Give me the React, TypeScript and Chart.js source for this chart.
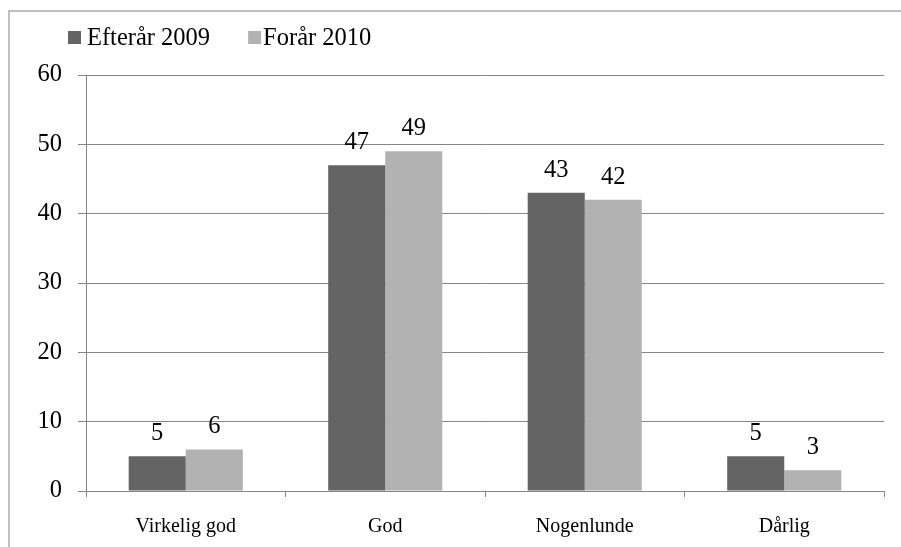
import React, { useEffect, useRef } from "react";
import { Chart, registerables } from "chart.js";

Chart.register(...registerables);

const categories = ["Virkelig god", "God", "Nogenlunde", "Dårlig"];
const seriesNames = ["Efterår 2009", "Forår 2010"];
const efteraar2009 = [5, 47, 43, 5];
const foraar2010 = [6, 49, 42, 3];
const seriesColors = ["#646464", "#b2b2b2"];
const yTickMax = 60;
const yTickStep = 10;

const SERIF = "'Liberation Serif', 'Times New Roman', serif";

const framePlugin = {
  id: "frame",
  beforeDraw(chart: any) {
    const ctx = chart.ctx;
    ctx.save();
    ctx.strokeStyle = "#aaaaaa";
    ctx.lineWidth = 1.5;
    ctx.beginPath();
    ctx.moveTo(9, chart.height);
    ctx.lineTo(9, 11);
    ctx.lineTo(chart.width, 11);
    ctx.stroke();
    ctx.restore();
  },
};

const legendPlugin = {
  id: "customLegend",
  afterDraw(chart: any) {
    const ctx = chart.ctx;
    ctx.save();
    ctx.font = `24.5px ${SERIF}`;
    ctx.textBaseline = "alphabetic";
    ctx.textAlign = "left";
    let x = 68;
    chart.data.datasets.forEach((ds: any, i: number) => {
      ctx.fillStyle = ds.backgroundColor;
      ctx.fillRect(x, 31, 13, 13);
      ctx.fillStyle = "#000";
      const tx = x + (i === 0 ? 19 : 15);
      ctx.fillText(ds.label, tx, 45);
      x = tx + ctx.measureText(ds.label).width + 38;
    });
    ctx.restore();
  },
};

const dataLabelPlugin = {
  id: "dataLabels",
  afterDatasetsDraw(chart: any) {
    const ctx = chart.ctx;
    ctx.save();
    ctx.font = `24.5px ${SERIF}`;
    ctx.fillStyle = "#000";
    ctx.textAlign = "center";
    ctx.textBaseline = "alphabetic";
    chart.data.datasets.forEach((ds: any, di: number) => {
      const meta = chart.getDatasetMeta(di);
      meta.data.forEach((bar: any, i: number) => {
        ctx.fillText(String(ds.data[i]), bar.x, bar.y - 16);
      });
    });
    ctx.restore();
  },
};

export default function App() {
  const ref = useRef<HTMLCanvasElement>(null);
  useEffect(() => {
    if (!ref.current) return;
    const chart = new Chart(ref.current, {
      type: "bar",
      data: {
        labels: categories,
        datasets: [
          { label: seriesNames[0], data: efteraar2009, backgroundColor: seriesColors[0] },
          { label: seriesNames[1], data: foraar2010, backgroundColor: seriesColors[1] },
        ],
      },
      options: {
        responsive: false,
        animation: false,
        layout: { padding: { top: 75, right: 17, bottom: 0, left: 0 } },
        datasets: {
          bar: { categoryPercentage: 0.572, barPercentage: 1, borderWidth: 0 },
        },
        plugins: {
          legend: { display: false },
          tooltip: { enabled: false },
        },
        scales: {
          x: {
            offset: true,
            grid: {
              offset: true,
              drawOnChartArea: false,
              color: "#868686",
              tickLength: 6,
            },
            border: { color: "#868686", width: 1 },
            ticks: {
              color: "#000",
              font: { family: SERIF, size: 20 },
              padding: 18,
              maxRotation: 0,
            },
            afterFit(scale: any) {
              scale.height = 56;
            },
          },
          y: {
            min: 0,
            max: yTickMax,
            ticks: {
              stepSize: yTickStep,
              color: "#000",
              font: { family: SERIF, size: 24.5 },
              padding: 16,
            },
            grid: { color: "#868686", tickLength: 8 },
            border: { color: "#868686", width: 1 },
            afterFit(scale: any) {
              scale.width = 86;
            },
          },
        },
      },
      plugins: [framePlugin, legendPlugin, dataLabelPlugin],
    });
    return () => chart.destroy();
  }, []);
  return (
    <canvas
      ref={ref}
      width={901}
      height={547}
      style={{ position: "absolute", left: 0, top: 0, width: 901, height: 547 }}
    />
  );
}
